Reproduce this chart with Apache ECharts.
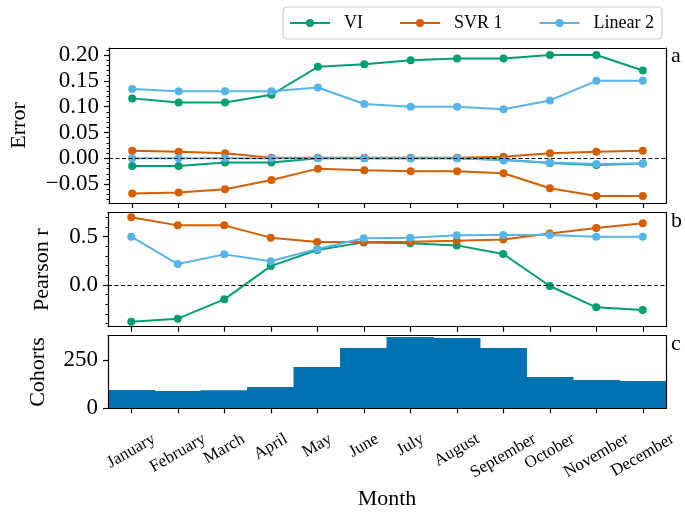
<!DOCTYPE html>
<html>
<head>
<meta charset="utf-8">
<script src="https://cdn.jsdelivr.net/npm/echarts@6/dist/echarts.min.js"></script>
<style>
  html, body { margin: 0; padding: 0; background: #ffffff; }
  #chart { width: 685px; height: 515px; }
</style>
</head>
<body>
<div id="chart"></div>
<script>
// Months on the shared x axis
const months = ['January', 'February', 'March', 'April', 'May', 'June', 'July',
  'August', 'September', 'October', 'November', 'December'];

// Panel a: error bands (upper and lower curve per model)
const viErrorHigh  = [0.116, 0.108, 0.108, 0.123, 0.177, 0.182, 0.190, 0.193, 0.193, 0.200, 0.200, 0.170];
const viErrorLow   = [-0.015, -0.015, -0.008, -0.008, 0.000, 0.000, 0.000, 0.000, -0.003, -0.009, -0.013, -0.010];
const svrErrorHigh = [0.0147, 0.0128, 0.0097, 0.001, 0.001, 0.001, 0.001, 0.001, 0.003, 0.0097, 0.0128, 0.0147];
const svrErrorLow  = [-0.068, -0.066, -0.060, -0.042, -0.020, -0.023, -0.025, -0.025, -0.029, -0.058, -0.073, -0.073];
const linErrorHigh = [0.134, 0.130, 0.130, 0.130, 0.137, 0.105, 0.100, 0.100, 0.095, 0.112, 0.150, 0.150];
const linErrorLow  = [0.000, 0.000, 0.000, 0.000, 0.000, 0.000, 0.000, 0.000, -0.004, -0.008, -0.011, -0.010];

// Panel b: Pearson correlation per model
const viPearson  = [-0.379, -0.348, -0.148, 0.196, 0.362, 0.441, 0.431, 0.410, 0.321, -0.010, -0.231, -0.259];
const svrPearson = [0.700, 0.617, 0.617, 0.490, 0.445, 0.446, 0.448, 0.458, 0.472, 0.534, 0.589, 0.638];
const linPearson = [0.500, 0.217, 0.317, 0.245, 0.372, 0.483, 0.490, 0.514, 0.517, 0.517, 0.500, 0.500];

// Panel c: number of cohorts per month
const cohorts = [95, 90, 93, 110, 214, 312, 369, 364, 312, 162, 146, 141];

// Tick values of each panel's y axis
const errorTicks   = [-0.05, 0.00, 0.05, 0.10, 0.15, 0.20];
const pearsonTicks = [0.0, 0.5];
const cohortTicks  = [0, 250];

const names = ['VI', 'SVR 1', 'Linear 2'];
const colors = { 'VI': '#009E73', 'SVR 1': '#D55E00', 'Linear 2': '#56B4E9' };

const FONT = '"Liberation Serif", "DejaVu Serif", serif';
const ranges = {
  error:   [-0.0865, 0.2135],
  pearson: [-0.431, 0.748],
  cohort:  [0, 375.6]
};

function minorSteps(lo, hi, step) {
  const out = [];
  const start = Math.ceil(lo / step - 1e-9);
  const end = Math.floor(hi / step + 1e-9);
  for (let k = start; k <= end; k++) out.push(+(k * step).toFixed(6));
  return out;
}

function fmtMinus(v, d) {
  return (v < 0 ? '\u2212' : '') + Math.abs(v).toFixed(d);
}

const MONTH_FONT = 17;
const LABEL_TOP = 24;   // gap from the axis line to the top of each rotated label
const measureCtx = document.createElement('canvas').getContext('2d');
measureCtx.font = MONTH_FONT + 'px ' + FONT;

const axisLineStyle = { color: '#000', width: 1.2 };
const grids = [
  { left: 108, top: 48,    width: 558, height: 155 },
  { left: 108, top: 212.7, width: 558, height: 114 },
  { left: 108, top: 335.7, width: 558, height: 72.6 }
];

const xAxes = [];
const yAxes = [];
grids.forEach(function (g, gi) {
  const isLast = gi === 2;
  xAxes.push({
    type: 'category', gridIndex: gi, position: 'bottom', data: months,
    boundaryGap: true, z: 10,
    axisLine: { show: true, onZero: false, lineStyle: axisLineStyle },
    axisTick: { show: true, inside: false, length: 5, alignWithLabel: true, interval: 0, lineStyle: { color: '#000', width: 1.2 } },
    axisLabel: { show: false },
    splitLine: { show: false },
    name: isLast ? 'Month' : '', nameLocation: 'middle', nameGap: 80,
    nameTextStyle: { fontSize: 22, fontFamily: FONT, color: '#000' }
  });
  xAxes.push({
    type: 'category', gridIndex: gi, position: 'top', data: months, boundaryGap: true, z: 10,
    axisLine: { show: true, onZero: false, lineStyle: axisLineStyle },
    axisTick: { show: false }, axisLabel: { show: false }, splitLine: { show: false }
  });
});

// One label-only axis per month: each rotated label is centred under its
// tick and pushed down by half its rotated height, so all tops line up.
months.forEach(function (m, i) {
  const w = measureCtx.measureText(m).width;
  const rotatedHalf = (w * 0.5 + MONTH_FONT * 0.75 * 0.866) / 2;
  xAxes.push({
    type: 'category', gridIndex: 2, position: 'bottom', data: months, boundaryGap: true,
    axisLine: { show: false, onZero: false }, axisTick: { show: false }, splitLine: { show: false },
    axisLabel: {
      show: true, rotate: 30, align: 'center', verticalAlign: 'middle',
      margin: LABEL_TOP + rotatedHalf,
      interval: function (idx) { return idx === i; },
      fontSize: MONTH_FONT, fontFamily: FONT, color: '#000'
    }
  });
});

function yPanel(gi, range, ticks, decimals, minorStep, title, gap) {
  const common = { type: 'value', gridIndex: gi, min: range[0], max: range[1], splitLine: { show: false }, z: 10 };
  yAxes.push(Object.assign({}, common, {
    position: 'left',
    axisLine: { show: true, onZero: false, lineStyle: axisLineStyle },
    axisTick: { show: true, inside: false, length: 5, customValues: ticks, lineStyle: { color: '#000', width: 1.2 } },
    axisLabel: {
      show: true, customValues: ticks, margin: 10, fontSize: 23, fontFamily: FONT, color: '#000',
      formatter: function (v) { return fmtMinus(v, decimals); }
    },
    name: title, nameLocation: 'middle', nameGap: gap,
    nameTextStyle: { fontSize: 22, fontFamily: FONT, color: '#000' }
  }));
  yAxes.push(Object.assign({}, common, {
    position: 'right',
    axisLine: { show: true, onZero: false, lineStyle: axisLineStyle },
    axisTick: { show: false }, axisLabel: { show: false }
  }));
  if (minorStep) {
    yAxes.push(Object.assign({}, common, {
      position: 'left',
      axisLine: { show: false, onZero: false },
      axisTick: { show: true, inside: false, length: 2.5, customValues: minorSteps(range[0], range[1], minorStep), lineStyle: { color: '#000', width: 1 } },
      axisLabel: { show: false }
    }));
  }
}

yPanel(0, ranges.error, errorTicks, 2, 0.01, 'Error', 79);
const yPearsonIdx = yAxes.length;
yPanel(1, ranges.pearson, pearsonTicks, 1, 0.1, 'Pearson r', 55);
const yCohortIdx = yAxes.length;
yPanel(2, ranges.cohort, cohortTicks, 0, null, 'Cohorts', 59);

const zeroLine = {
  silent: true, symbol: 'none', label: { show: false },
  lineStyle: { color: '#000', type: [4, 2.5], width: 1 },
  data: [{ yAxis: 0 }]
};

function lineSeries(name, data, xi, yi, withZero) {
  const s = {
    type: 'line', name: name, data: data, xAxisIndex: xi, yAxisIndex: yi,
    symbol: 'circle', symbolSize: 8, showAllSymbol: true,
    lineStyle: { width: 2, color: colors[name] },
    itemStyle: { color: colors[name] },
    emphasis: { disabled: true }
  };
  if (withZero) s.markLine = zeroLine;
  return s;
}

const series = [
  lineSeries('VI', viErrorHigh, 0, 0, true),
  lineSeries('VI', viErrorLow, 0, 0),
  lineSeries('SVR 1', svrErrorHigh, 0, 0),
  lineSeries('SVR 1', svrErrorLow, 0, 0),
  lineSeries('Linear 2', linErrorHigh, 0, 0),
  lineSeries('Linear 2', linErrorLow, 0, 0),
  lineSeries('VI', viPearson, 2, yPearsonIdx, true),
  lineSeries('SVR 1', svrPearson, 2, yPearsonIdx),
  lineSeries('Linear 2', linPearson, 2, yPearsonIdx),
  {
    type: 'bar', name: 'Cohorts', data: cohorts, xAxisIndex: 4, yAxisIndex: yCohortIdx,
    barWidth: '102%', barCategoryGap: '0%',
    itemStyle: { color: '#0072B2' },
    emphasis: { disabled: true }
  }
];

const chart = echarts.init(document.getElementById('chart'), null, { renderer: 'canvas' });
chart.setOption({
  animation: false,
  backgroundColor: '#ffffff',
  grid: grids,
  xAxis: xAxes,
  yAxis: yAxes,
  legend: {
    data: names, left: 283, top: 7, orient: 'horizontal',
    itemWidth: 40, itemHeight: 10, itemGap: 36,
    padding: [7, 8, 7, 6],
    backgroundColor: '#ffffff', borderColor: '#cccccc', borderWidth: 1.2, borderRadius: 4,
    textStyle: { fontSize: 18, fontFamily: FONT, color: '#000', padding: [0, 0, 0, 9] }
  },
  graphic: [
    { type: 'text', left: 671, top: 45, style: { text: 'a', fontSize: 22, fontFamily: FONT, fill: '#000' } },
    { type: 'text', left: 671, top: 210, style: { text: 'b', fontSize: 22, fontFamily: FONT, fill: '#000' } },
    { type: 'text', left: 671, top: 333, style: { text: 'c', fontSize: 22, fontFamily: FONT, fill: '#000' } }
  ],
  series: series
});
</script>
</body>
</html>
